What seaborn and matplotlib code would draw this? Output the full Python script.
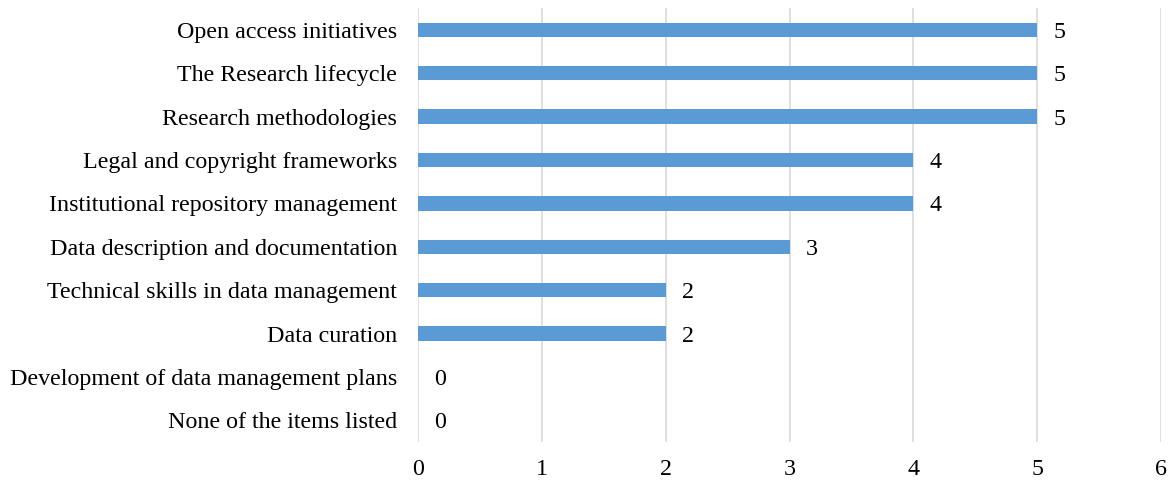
import matplotlib
matplotlib.use("Agg")
import matplotlib.pyplot as plt
import seaborn as sns
import pandas as pd

categories = [
    "Open access initiatives",
    "The Research lifecycle",
    "Research methodologies",
    "Legal and copyright frameworks",
    "Institutional repository management",
    "Data description and documentation",
    "Technical skills in data management",
    "Data curation",
    "Development of data management plans",
    "None of the items listed",
]
counts = [5, 5, 5, 4, 4, 3, 2, 2, 0, 0]
x_ticks = [0, 1, 2, 3, 4, 5, 6]

df = pd.DataFrame({"item": categories, "count": counts})

sns.set_theme(style="white")
plt.rcParams["font.family"] = ["Liberation Serif", "DejaVu Serif"]

fs = 17.3

fig = plt.figure(figsize=(11.71, 4.8), dpi=100)
ax = fig.add_axes([0.357, 0.079, 0.6345, 0.904])

sns.barplot(data=df, y="item", x="count", orient="h", color="#5B9BD5",
            saturation=1, width=0.33, linewidth=0, ax=ax)

ax.set_xlim(0, 6)
ax.set_ylim(len(categories) - 0.5, -0.5)
ax.set_xticks(x_ticks)
ax.set_xticklabels([str(t) for t in x_ticks], fontsize=fs, color="#000000")
ax.tick_params(axis="y", labelsize=fs, colors="#000000", length=0, pad=15)
ax.tick_params(axis="x", length=0, pad=12)
ax.set_xlabel("")
ax.set_ylabel("")
ax.grid(axis="x", color="#D9D9D9", linewidth=1.2)
ax.set_axisbelow(True)
for s in ax.spines.values():
    s.set_visible(False)

for i, v in enumerate(counts):
    ax.text(v + 0.13, i, str(v), va="center_baseline", ha="left",
            fontsize=fs, color="#000000")

fig.savefig("out.png", dpi=100)
